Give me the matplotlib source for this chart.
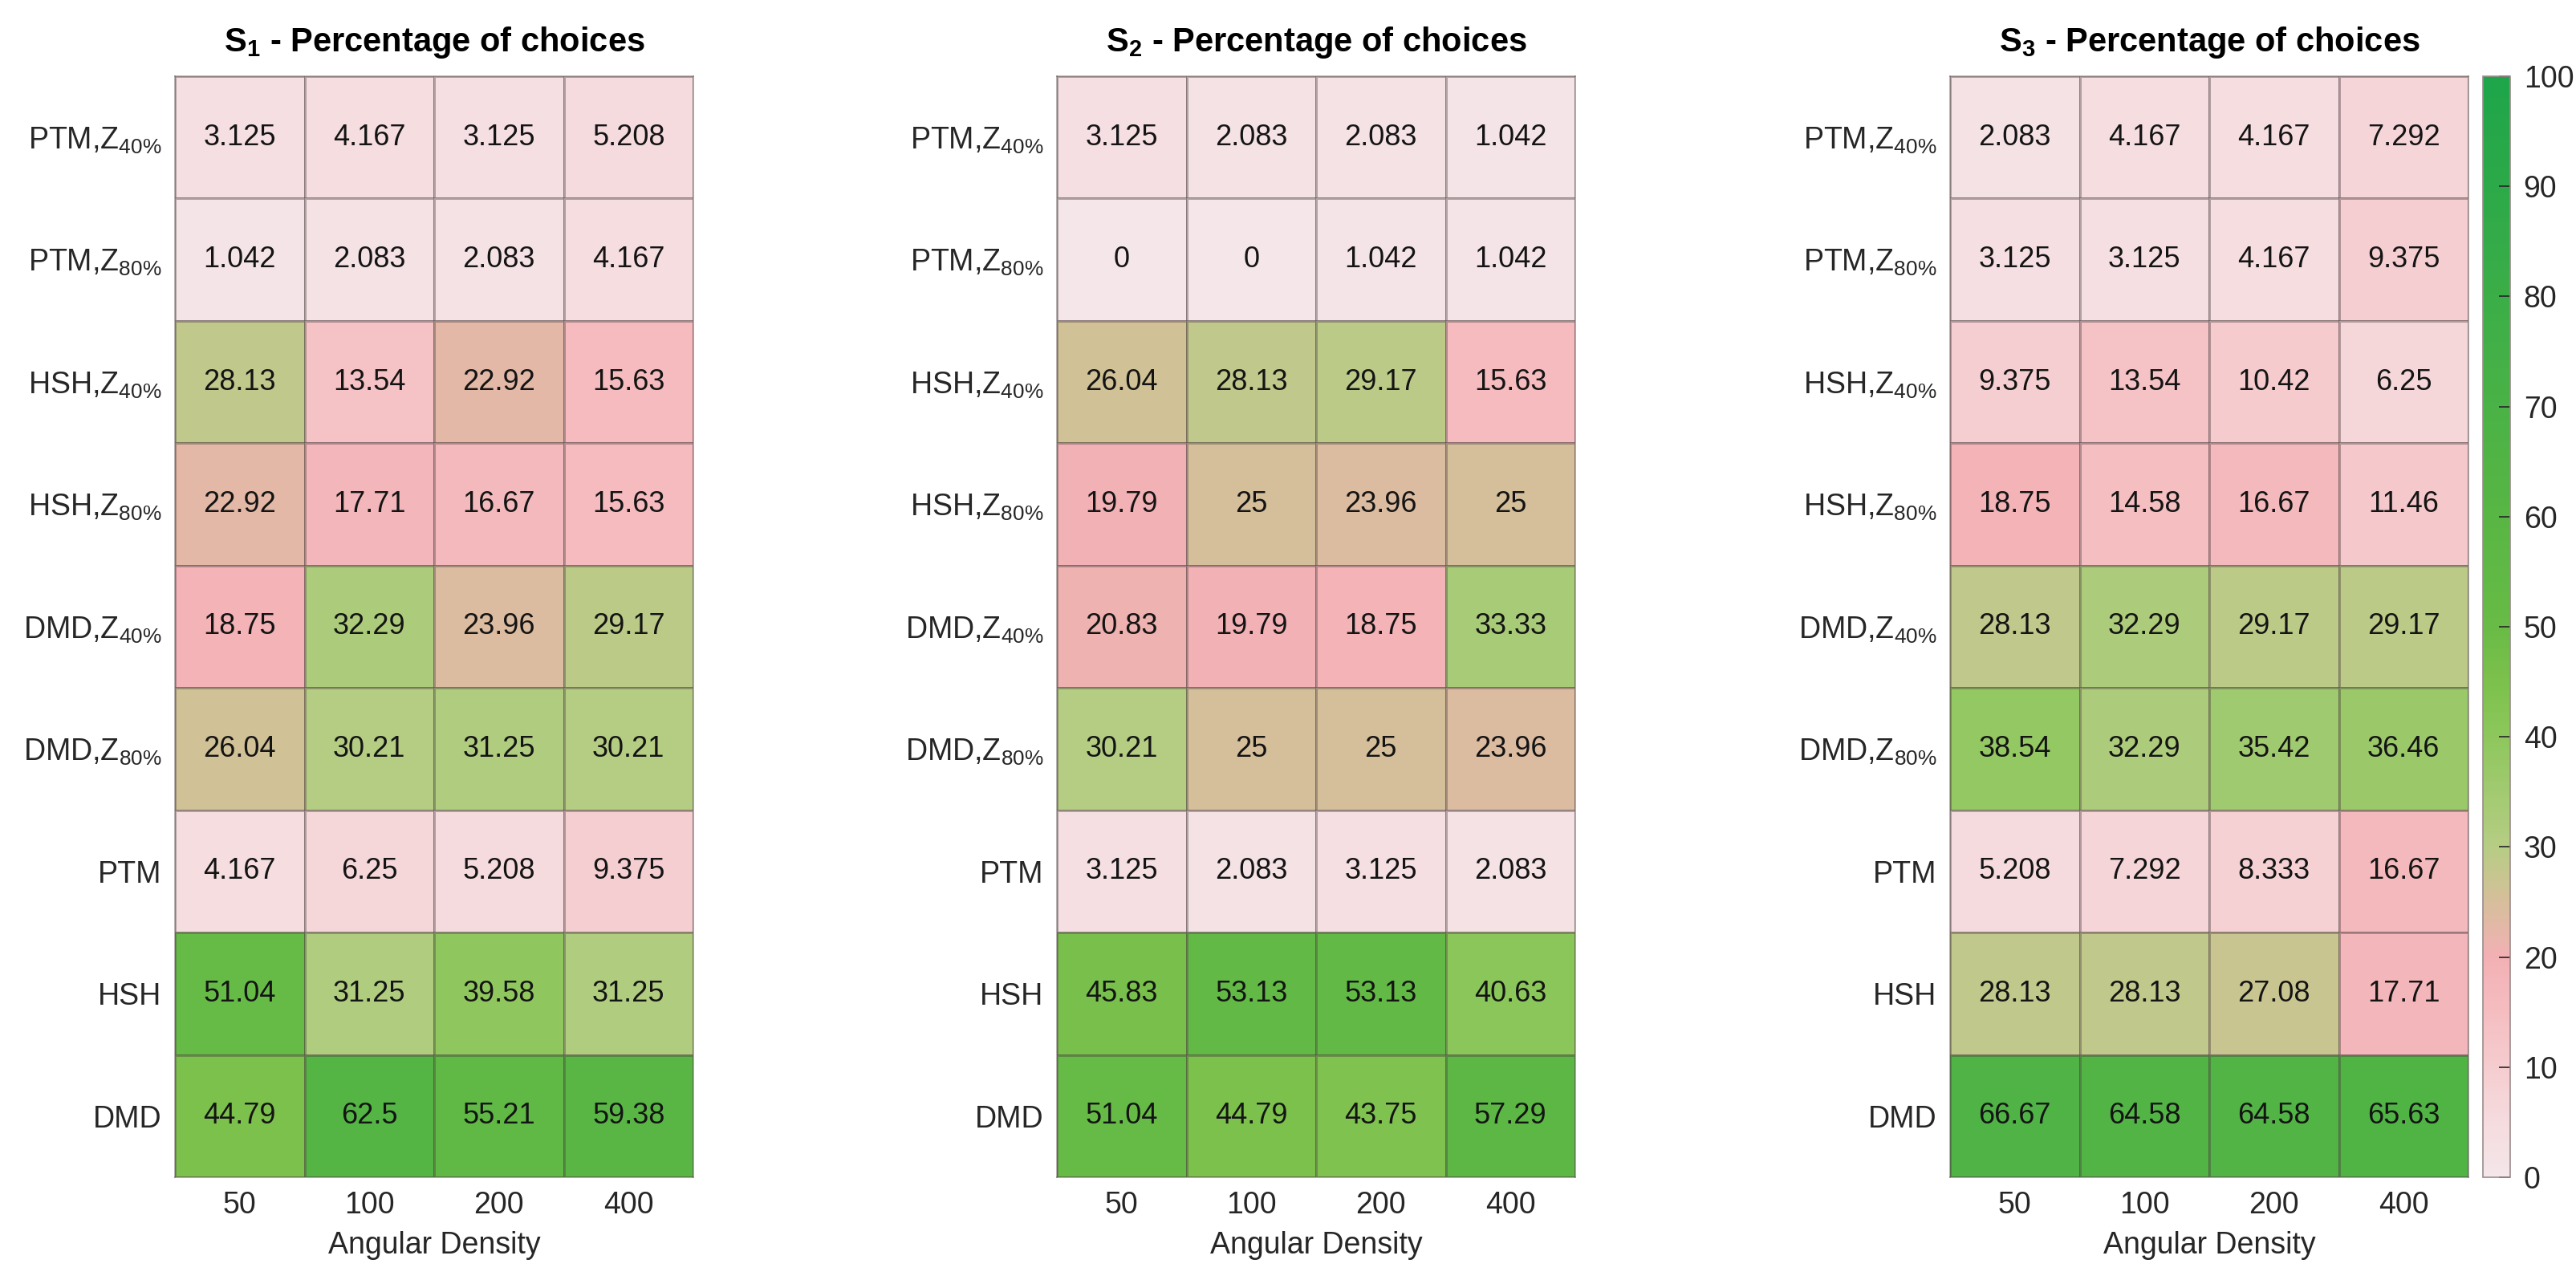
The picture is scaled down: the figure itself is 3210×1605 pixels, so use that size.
import numpy as np
import matplotlib
matplotlib.use("Agg")
import matplotlib.pyplot as plt
from matplotlib.colors import LinearSegmentedColormap

plt.rcParams["font.family"] = ["Liberation Sans", "DejaVu Sans"]
plt.rcParams["mathtext.fontset"] = "custom"
plt.rcParams["mathtext.rm"] = "Liberation Sans"
plt.rcParams["mathtext.bf"] = "Liberation Sans:bold"
plt.rcParams["mathtext.default"] = "regular"

# data
densities = ["50", "100", "200", "400"]
methods = [
    "PTM,Z$_{40\\%}$", "PTM,Z$_{80\\%}$",
    "HSH,Z$_{40\\%}$", "HSH,Z$_{80\\%}$",
    "DMD,Z$_{40\\%}$", "DMD,Z$_{80\\%}$",
    "PTM", "HSH", "DMD",
]
titles = ["$\\mathbf{S_1}$ - Percentage of choices",
          "$\\mathbf{S_2}$ - Percentage of choices",
          "$\\mathbf{S_3}$ - Percentage of choices"]

s1 = [
    [3.125, 4.167, 3.125, 5.208],
    [1.042, 2.083, 2.083, 4.167],
    [28.13, 13.54, 22.92, 15.63],
    [22.92, 17.71, 16.67, 15.63],
    [18.75, 32.29, 23.96, 29.17],
    [26.04, 30.21, 31.25, 30.21],
    [4.167, 6.25, 5.208, 9.375],
    [51.04, 31.25, 39.58, 31.25],
    [44.79, 62.5, 55.21, 59.38],
]
s2 = [
    [3.125, 2.083, 2.083, 1.042],
    [0, 0, 1.042, 1.042],
    [26.04, 28.13, 29.17, 15.63],
    [19.79, 25, 23.96, 25],
    [20.83, 19.79, 18.75, 33.33],
    [30.21, 25, 25, 23.96],
    [3.125, 2.083, 3.125, 2.083],
    [45.83, 53.13, 53.13, 40.63],
    [51.04, 44.79, 43.75, 57.29],
]
s3 = [
    [2.083, 4.167, 4.167, 7.292],
    [3.125, 3.125, 4.167, 9.375],
    [9.375, 13.54, 10.42, 6.25],
    [18.75, 14.58, 16.67, 11.46],
    [28.13, 32.29, 29.17, 29.17],
    [38.54, 32.29, 35.42, 36.46],
    [5.208, 7.292, 8.333, 16.67],
    [28.13, 28.13, 27.08, 17.71],
    [66.67, 64.58, 64.58, 65.63],
]
panels = [s1, s2, s3]

cmap = LinearSegmentedColormap.from_list("pinkgreen", [
    (0.00, "#f4e6e9"),
    (0.05, "#f5dbde"),
    (0.10, "#f5cccf"),
    (0.15, "#f5bdc0"),
    (0.20, "#f2b0b4"),
    (0.25, "#d6bf9a"),
    (0.30, "#b6cd84"),
    (0.40, "#8dc75c"),
    (0.45, "#7cc14c"),
    (0.50, "#68bb46"),
    (0.60, "#58b644"),
    (0.70, "#4ab246"),
    (1.00, "#1ea54a"),
])

fig = plt.figure(figsize=(32.1, 16.05), dpi=100)
lefts = [218 / 3210, 1317 / 3210, 2430 / 3210]
w = 646 / 3210
b = (1605 - 1467) / 1605
h = 1372 / 1605

for left, vals, title in zip(lefts, panels, titles):
    ax = fig.add_axes([left, b, w, h])
    arr = np.array(vals)
    mesh = ax.pcolormesh(arr, cmap=cmap, vmin=0, vmax=100,
                         edgecolors=(0.3, 0.25, 0.25, 0.4), linewidth=1.0)
    ax.set_ylim(len(methods), 0)
    ax.set_xlim(0, len(densities))
    for i in range(arr.shape[0]):
        for j in range(arr.shape[1]):
            ax.text(j + 0.5, i + 0.5, f"{arr[i, j]:g}", ha="center",
                    va="center", fontsize=26, color="#141414")
    ax.set_xticks(np.arange(len(densities)) + 0.5)
    ax.set_xticklabels(densities)
    ax.set_yticks(np.arange(len(methods)) + 0.5)
    ax.set_yticklabels(methods)
    ax.tick_params(length=0, labelsize=27, colors="#262626", pad=12)
    ax.set_xlabel("Angular Density", fontsize=27, color="#262626", labelpad=10)
    ax.set_title(title, fontsize=30, fontweight="bold", pad=22)
    for sp in ax.spines.values():
        sp.set_color((0.35, 0.3, 0.3, 0.5))
        sp.set_linewidth(1.2)

cax = fig.add_axes([3094 / 3210, b, 34 / 3210, h])
cb = fig.colorbar(mesh, cax=cax, ticks=np.arange(0, 101, 10))
cb.outline.set_edgecolor("#9c8c8c")
cb.outline.set_linewidth(1.2)
cax.tick_params(direction="in", length=10, width=1.2, labelsize=27,
                colors="#262626", pad=12)

fig.savefig("out.png", dpi=100)
